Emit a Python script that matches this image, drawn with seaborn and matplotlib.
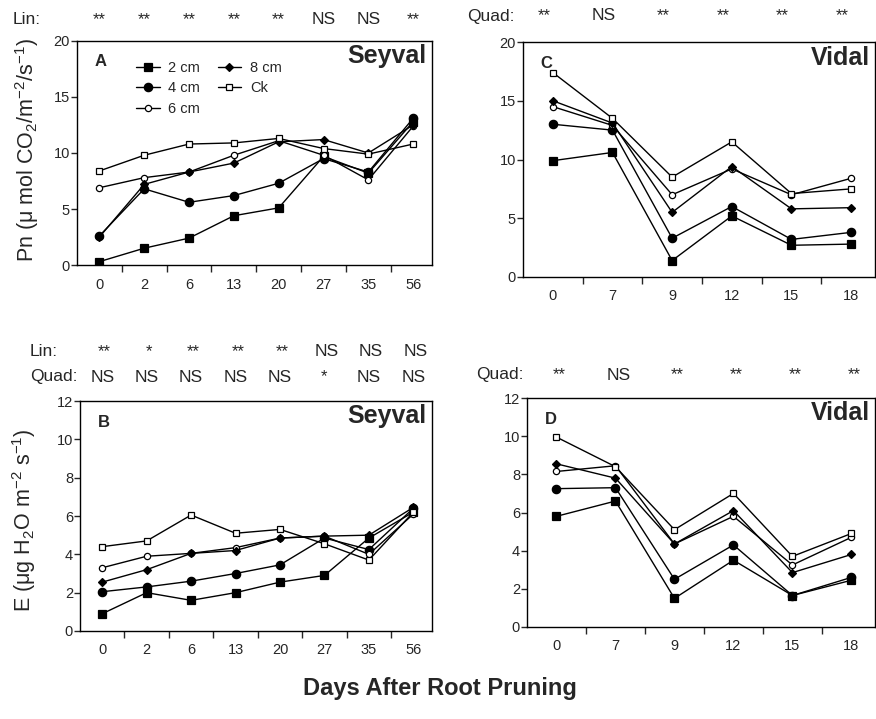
import numpy as np
import pandas as pd
import matplotlib
matplotlib.use("Agg")
import matplotlib.pyplot as plt
import seaborn as sns

# data
treatments = ["2 cm", "4 cm", "6 cm", "8 cm", "Ck"]
days_seyval = ["0", "2", "6", "13", "20", "27", "35", "56"]
days_vidal = ["0", "7", "9", "12", "15", "18"]

# Pn, Seyval (A)
pn_sey_2 = [0.3, 1.5, 2.4, 4.4, 5.1, 9.7, 8.2, 12.8]
pn_sey_4 = [2.6, 6.8, 5.6, 6.2, 7.3, 9.5, 8.3, 13.1]
pn_sey_6 = [6.9, 7.8, 8.3, 9.8, 11.1, 9.8, 7.6, 12.4]
pn_sey_8 = [2.5, 7.2, 8.3, 9.1, 11.0, 11.2, 10.0, 12.5]
pn_sey_ck = [8.4, 9.8, 10.8, 10.9, 11.3, 10.4, 9.9, 10.8]

# Pn, Vidal (C)
pn_vid_2 = [9.9, 10.6, 1.4, 5.2, 2.7, 2.8]
pn_vid_4 = [13.0, 12.5, 3.3, 6.0, 3.2, 3.8]
pn_vid_6 = [14.5, 12.9, 7.0, 9.2, 7.0, 8.4]
pn_vid_8 = [15.0, 13.1, 5.5, 9.4, 5.8, 5.9]
pn_vid_ck = [17.4, 13.5, 8.5, 11.5, 7.1, 7.5]

# E, Seyval (B)
e_sey_2 = [0.9, 2.0, 1.6, 2.0, 2.55, 2.9, 4.85, 6.2]
e_sey_4 = [2.05, 2.3, 2.6, 3.0, 3.45, 4.85, 4.25, 6.4]
e_sey_6 = [3.3, 3.9, 4.05, 4.35, 4.85, 4.95, 4.0, 6.1]
e_sey_8 = [2.55, 3.2, 4.05, 4.2, 4.85, 4.95, 5.0, 6.45]
e_sey_ck = [4.4, 4.7, 6.05, 5.1, 5.3, 4.55, 3.7, 6.2]

# E, Vidal (D)
e_vid_2 = [5.8, 6.6, 1.5, 3.5, 1.65, 2.45]
e_vid_4 = [7.25, 7.3, 2.5, 4.3, 1.65, 2.6]
e_vid_6 = [8.15, 8.45, 4.35, 5.8, 3.25, 4.7]
e_vid_8 = [8.55, 7.8, 4.35, 6.1, 2.85, 3.8]
e_vid_ck = [9.95, 8.4, 5.1, 7.0, 3.7, 4.9]

lin_a = ["**", "**", "**", "**", "**", "NS", "NS", "**"]
quad_c = ["**", "NS", "**", "**", "**", "**"]
lin_b = ["**", "*", "**", "**", "**", "NS", "NS", "NS"]
quad_b = ["NS", "NS", "NS", "NS", "NS", "*", "NS", "NS"]
quad_d = ["**", "NS", "**", "**", "**", "**"]


def long_table(days, series):
    rows = []
    for trt, vals in zip(treatments, series):
        for i, v in enumerate(vals):
            rows.append({"pos": i, "day": days[i], "trt": trt, "value": v})
    return pd.DataFrame(rows)


df_a = long_table(days_seyval, [pn_sey_2, pn_sey_4, pn_sey_6, pn_sey_8, pn_sey_ck])
df_c = long_table(days_vidal, [pn_vid_2, pn_vid_4, pn_vid_6, pn_vid_8, pn_vid_ck])
df_b = long_table(days_seyval, [e_sey_2, e_sey_4, e_sey_6, e_sey_8, e_sey_ck])
df_d = long_table(days_vidal, [e_vid_2, e_vid_4, e_vid_6, e_vid_8, e_vid_ck])

sns.set_style("ticks")
plt.rcParams["font.family"] = ["Liberation Sans", "DejaVu Sans"]
plt.rcParams["mathtext.default"] = "regular"

marker_style = {
    "2 cm": dict(marker="s", markersize=6, markerfacecolor="black"),
    "4 cm": dict(marker="o", markersize=6, markerfacecolor="black"),
    "6 cm": dict(marker="o", markersize=4.5, markerfacecolor="white"),
    "8 cm": dict(marker="D", markersize=3.8, markerfacecolor="black"),
    "Ck": dict(marker="s", markersize=5, markerfacecolor="white"),
}

W, H = 876, 719
fig = plt.figure(figsize=(W / 100, H / 100), dpi=100)


def px_axes(left, top, right, bottom):
    return fig.add_axes([left / W, 1 - bottom / H, (right - left) / W, (bottom - top) / H])


def draw_panel(ax, df, days, ymax, ystep, letter, cultivar, xright):
    for trt in treatments:
        sub = df[df["trt"] == trt]
        sns.lineplot(data=sub, x="pos", y="value", ax=ax, color="black",
                     linewidth=1, markeredgecolor="black", markeredgewidth=0.9,
                     label=trt, legend=False, **marker_style[trt])
    n = len(days)
    ax.set_xlim(-0.5, xright)
    ax.set_ylim(0, ymax)
    ax.set_xticks(range(n))
    ax.set_xticklabels(days, fontsize=10.5)
    ax.set_xticks(np.arange(0.5, n - 0.5, 1), minor=True)
    ax.tick_params(axis="x", which="major", length=0, pad=9)
    ax.tick_params(axis="x", which="minor", length=5, width=1, direction="out")
    ax.set_yticks(np.arange(0, ymax + 0.1, ystep))
    ax.tick_params(axis="y", length=4, width=1, direction="out", labelsize=10.5, pad=1)
    ax.set_xlabel("")
    ax.set_ylabel("")
    for s in ax.spines.values():
        s.set_linewidth(1)
        s.set_color("black")
    ax.text(0.05, 0.94, letter, transform=ax.transAxes, fontsize=12,
            fontweight="bold", va="top", ha="left")
    ax.text(0.985, 0.985, cultivar, transform=ax.transAxes, fontsize=18,
            fontweight="bold", va="top", ha="right")


def stat_row(ax, labels, yfrac, shift=0.0):
    tr = ax.get_xaxis_transform()
    for i, lab in enumerate(labels):
        if "NS" in lab:
            ax.text(i + shift, yfrac, lab, transform=tr, ha="center", va="center",
                    fontsize=12.5)
        else:
            ax.text(i + shift, yfrac, lab, transform=tr, ha="center",
                    va="center", fontsize=12)


ax_a = px_axes(77, 41, 432, 265)
draw_panel(ax_a, df_a, days_seyval, 20, 5, "A", "Seyval", 7.42)
ax_c = px_axes(523, 42, 875, 277)
draw_panel(ax_c, df_c, days_vidal, 20, 5, "C", "Vidal", 5.4)
ax_b = px_axes(80, 401, 432, 631)
draw_panel(ax_b, df_b, days_seyval, 12, 2, "B", "Seyval", 7.42)
ax_d = px_axes(527, 398, 875, 627)
draw_panel(ax_d, df_d, days_vidal, 12, 2, "D", "Vidal", 5.4)

ax_a.legend(loc="upper left", bbox_to_anchor=(0.13, 0.97), ncol=2, frameon=False,
            fontsize=10.5, handlelength=1.6, columnspacing=1.2, labelspacing=0.45,
            handletextpad=0.6)

# significance rows
fig.text(13 / W, 1 - 20 / H, "Lin:", fontsize=12.5, va="center", ha="left")
stat_row(ax_a, lin_a, (265 - 20) / 224)
fig.text(467 / W, 1 - 16 / H, "Quad:", fontsize=12.5, va="center", ha="left")
stat_row(ax_c, quad_c, (277 - 16) / 235, shift=-0.15)
fig.text(30 / W, 1 - 352 / H, "Lin:", fontsize=12.5, va="center", ha="left")
stat_row(ax_b, lin_b, (631 - 352) / 230, shift=0.05)
fig.text(30 / W, 1 - 377 / H, "Quad:", fontsize=12.5, va="center", ha="left")
stat_row(ax_b, quad_b, (631 - 377) / 230)
fig.text(476 / W, 1 - 375 / H, "Quad:", fontsize=12.5, va="center", ha="left")
stat_row(ax_d, quad_d, (627 - 375) / 229, shift=0.05)

# axis titles
fig.text(27 / W, 1 - 150 / H, "Pn ($\\mu$ mol CO$_2$/m$^{-2}$/s$^{-1}$)", rotation=90,
         fontsize=15.5, ha="center", va="center")
fig.text(24 / W, 1 - 520 / H, "E ($\\mu$g H$_2$O m$^{-2}$ s$^{-1}$)", rotation=90,
         fontsize=15.5, ha="center", va="center")
fig.text(440 / W, 1 - 688 / H, "Days After Root Pruning", fontsize=17,
         fontweight="bold", ha="center", va="center")

fig.savefig("out.png", dpi=100)
